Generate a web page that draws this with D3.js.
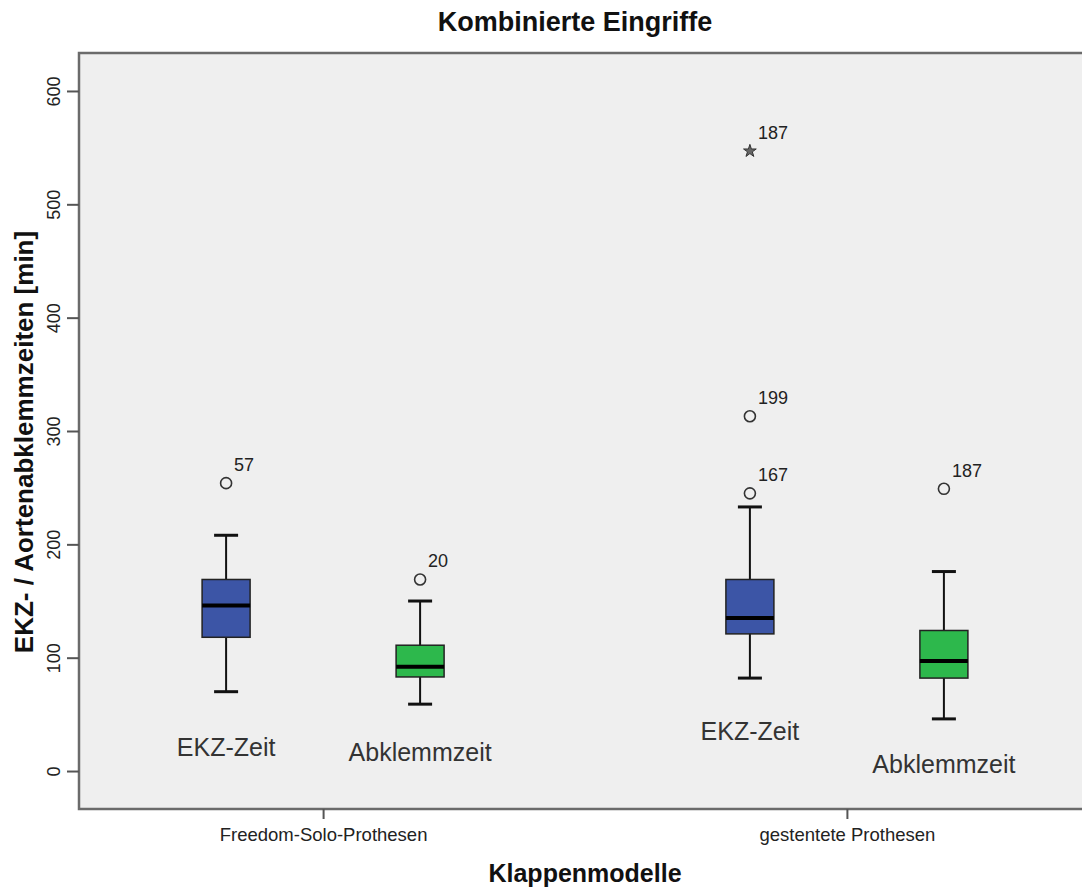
<!DOCTYPE html>
<html>
<head>
<meta charset="utf-8">
<script src="https://cdn.jsdelivr.net/npm/d3@7"></script>
<style>
  body { margin: 0; background: #fff; }
  svg { display: block; font-family: Arial, "Liberation Sans", sans-serif; }
</style>
</head>
<body>
<svg id="chart" width="1082" height="888"></svg>
<script>
// data (minutes)
const groups = ['Freedom-Solo-Prothesen', 'gestentete Prothesen'];
const series = ['EKZ-Zeit', 'Abklemmzeit'];
const yTicks = [0, 100, 200, 300, 400, 500, 600];

// box stats per group, in series order: [lower whisker, q1, median, q3, upper whisker]
const freedomBoxes = [[70, 118, 146, 169, 208], [59, 83, 92, 111, 150]];
const stentBoxes = [[82, 121, 135, 169, 233], [46, 82, 97, 124, 176]];

// outliers: group index, series index, value, case label, kind
const outGroup = [0, 0, 1, 1, 1, 1];
const outSeries = [0, 1, 0, 0, 0, 1];
const outValue = [254, 169, 245, 313, 547, 249];
const outLabel = ['57', '20', '167', '199', '187', '187'];
const outKind = ['circle', 'circle', 'circle', 'circle', 'star', 'circle'];

const colors = ['#3c55a6', '#2db84c'];

const svg = d3.select('#chart');
const margin = { top: 53, left: 79, bottom: 79, right: -9 };
const width = 1082, height = 888;
const x0 = margin.left, x1 = width - margin.right;
const y0 = margin.top, y1 = height - margin.bottom;

const y = d3.scaleLinear().domain([-33.5, 633.5]).range([y1, y0]);
const xGroup = d3.scalePoint().domain(groups).range([x0, x1]).padding(0.466);
const xSeries = d3.scalePoint().domain(series).range([-97, 97]);

const boxes = [];
[freedomBoxes, stentBoxes].forEach((arr, gi) => {
  arr.forEach((s, si) => boxes.push({ gi, group: groups[gi], series: series[si], si, lo: s[0], q1: s[1], med: s[2], q3: s[3], hi: s[4] }));
});
const cx = d => xGroup(d.group) + xSeries(d.series);

// plot background + frame
svg.append('rect').attr('x', x0).attr('y', y0).attr('width', x1 - x0).attr('height', y1 - y0)
  .attr('fill', '#efefef').attr('stroke', '#6b6b6b').attr('stroke-width', 2.5);

// y axis
const yAxis = svg.append('g').attr('transform', `translate(${x0},0)`)
  .call(d3.axisLeft(y).tickValues(yTicks).tickSize(12).tickFormat(d3.format('d')));
yAxis.select('.domain').remove();
yAxis.selectAll('.tick line').attr('stroke', '#555').attr('stroke-width', 2);
yAxis.selectAll('.tick text').attr('font-size', 18).attr('fill', '#222')
  .attr('transform', 'rotate(-90)').attr('x', 0).attr('y', -19).attr('dy', 0)
  .attr('text-anchor', 'middle');

// x axis
const xAxis = svg.append('g').attr('transform', `translate(0,${y1})`)
  .call(d3.axisBottom(xGroup).tickSize(10));
xAxis.select('.domain').remove();
xAxis.selectAll('.tick line').attr('stroke', '#555').attr('stroke-width', 2);
xAxis.selectAll('.tick text').attr('font-size', 18.5).attr('fill', '#222').attr('y', 32).attr('dy', 0);

// whiskers
const capW = 24, boxW = 48;
const g = svg.append('g');
g.selectAll('.stem').data(boxes).enter().append('line')
  .attr('x1', cx).attr('x2', cx).attr('y1', d => y(d.lo)).attr('y2', d => y(d.hi))
  .attr('stroke', '#111').attr('stroke-width', 2);
['lo', 'hi'].forEach(k => {
  g.selectAll('.cap-' + k).data(boxes).enter().append('line')
    .attr('x1', d => cx(d) - capW / 2).attr('x2', d => cx(d) + capW / 2)
    .attr('y1', d => y(d[k])).attr('y2', d => y(d[k]))
    .attr('stroke', '#111').attr('stroke-width', 3);
});

// boxes
g.selectAll('.box').data(boxes).enter().append('rect')
  .attr('x', d => cx(d) - boxW / 2).attr('width', boxW)
  .attr('y', d => y(d.q3)).attr('height', d => y(d.q1) - y(d.q3))
  .attr('fill', d => colors[d.si]).attr('stroke', '#222').attr('stroke-width', 1.5);
g.selectAll('.median').data(boxes).enter().append('line')
  .attr('x1', d => cx(d) - boxW / 2).attr('x2', d => cx(d) + boxW / 2)
  .attr('y1', d => y(d.med)).attr('y2', d => y(d.med))
  .attr('stroke', '#000').attr('stroke-width', 4);

// outliers
const outliers = outValue.map((v, i) => ({ group: groups[outGroup[i]], series: series[outSeries[i]], v, label: outLabel[i], kind: outKind[i] }));
g.selectAll('.out').data(outliers.filter(d => d.kind === 'circle')).enter().append('circle')
  .attr('cx', cx).attr('cy', d => y(d.v)).attr('r', 5.5)
  .attr('fill', 'none').attr('stroke', '#333').attr('stroke-width', 1.6);
g.selectAll('.ext').data(outliers.filter(d => d.kind === 'star')).enter().append('path')
  .attr('d', d3.symbol(d3.symbolStar, 50))
  .attr('transform', d => `translate(${cx(d)},${y(d.v)})`)
  .attr('fill', '#666').attr('stroke', '#333').attr('stroke-width', 1);
g.selectAll('.out-label').data(outliers).enter().append('text')
  .attr('x', d => cx(d) + 8).attr('y', d => y(d.v) - 12)
  .attr('font-size', 18).attr('fill', '#222').text(d => d.label);

// series annotations inside the plot (pixel offsets above the zero line, as placed in the original)
const annotDy = [[-15, -10], [-31, 2]];
g.selectAll('.annot').data(boxes).enter().append('text')
  .attr('x', cx).attr('y', d => y(0) + annotDy[d.gi][d.si])
  .attr('text-anchor', 'middle').attr('font-size', 25).attr('fill', '#333')
  .text(d => d.series);

// titles
svg.append('text').attr('x', (x0 + x1) / 2 - 10).attr('y', 31).attr('text-anchor', 'middle')
  .attr('font-size', 27).attr('font-weight', 'bold').attr('fill', '#111').text('Kombinierte Eingriffe');
svg.append('text').attr('x', (x0 + x1) / 2).attr('y', 882).attr('text-anchor', 'middle')
  .attr('font-size', 25).attr('font-weight', 'bold').attr('fill', '#111').text('Klappenmodelle');
svg.append('text').attr('transform', `translate(33,${(y0 + y1) / 2 + 11}) rotate(-90)`)
  .attr('text-anchor', 'middle').attr('font-size', 26).attr('font-weight', 'bold').attr('fill', '#111')
  .text('EKZ- / Aortenabklemmzeiten [min]');
</script>
</body>
</html>
